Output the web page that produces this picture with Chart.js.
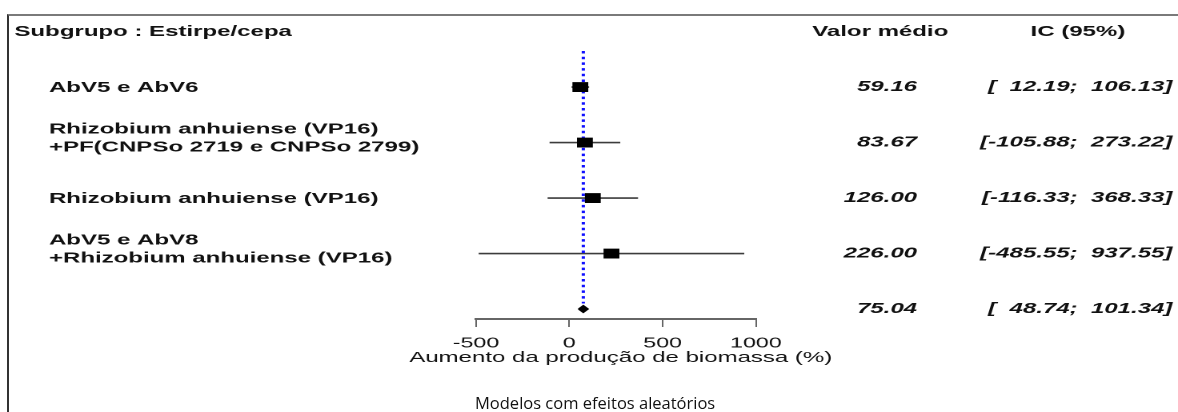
<!DOCTYPE html>
<html>
<head>
<meta charset="utf-8">
<script src="https://cdn.jsdelivr.net/npm/chart.js@4.4.1/dist/chart.umd.min.js"></script>
<style>
html, body { margin: 0; padding: 0; background: #fff; }
#wrap { position: relative; width: 1178px; height: 412px; overflow: hidden; background: #fff; }
#frame { position: absolute; left: 7px; top: 14px; right: -4px; bottom: -4px;
	border-top: 2px solid #7a7a7a; border-left: 2px solid #333; }
/* the original figure was stretched sideways, so the plot is drawn narrow and widened */
#plot { position: absolute; left: 0; top: 0; width: 736px; height: 412px;
	transform: scaleX(1.6005); transform-origin: 0 0; }
#caption { position: absolute; left: 475px; top: 391px; font: 16.5px "Open Sans", "Noto Sans", sans-serif;
	color: #111; white-space: nowrap; }
</style>
</head>
<body>
<div id="wrap">
	<div id="frame"></div>
	<canvas id="plot" width="736" height="412"></canvas>
	<div id="caption">Modelos com efeitos aleatórios</div>
</div>
<script>
// Forest plot data
const headerLabel = 'Subgrupo : Estirpe/cepa'
const studyLabels = [
	['AbV5 e AbV6'],
	['Rhizobium anhuiense (VP16)', '+PF(CNPSo 2719 e CNPSo 2799)'],
	['Rhizobium anhuiense (VP16)'],
	['AbV5 e AbV8', '+Rhizobium anhuiense (VP16)'],
]
const means = [59.16, 83.67, 126.0, 226.0]
const ciLow = [12.19, -105.88, -116.33, -485.55]
const ciHigh = [106.13, 273.22, 368.33, 937.55]
const summaryMean = 75.04
const summaryLow = 48.74
const summaryHigh = 101.34
const xTicks = [-500, 0, 500, 1000]
const xTitle = 'Aumento da produção de biomassa (%)'

const summaryRow = studyLabels.length
const yTop = -0.65
const yBottom = 4.18
const BOLD = 'bold 15px "Liberation Sans", Arial, sans-serif'
const ITAL = 'italic bold 15px "Liberation Sans", Arial, sans-serif'
const PLAIN = '15px "Liberation Sans", Arial, sans-serif'

function pad(s, n) {
	while (s.length < n) s = ' ' + s
	return s
}
function ciText(lo, hi) {
	return '[' + pad(lo.toFixed(2), 7) + '; ' + pad(hi.toFixed(2), 7) + ']'
}

const ciSets = ciLow.map((lo, i) => ({
	data: [{ x: lo, y: i }, { x: ciHigh[i], y: i }],
	borderColor: '#3c3c3c',
	borderWidth: 1.6,
	pointRadius: 0,
	order: 3,
}))

const boxSet = {
	data: means.map((m, i) => ({ x: m, y: i })),
	showLine: false,
	pointStyle: 'rect',
	pointRadius: 7,
	backgroundColor: '#000',
	borderColor: '#000',
	borderWidth: 0,
	order: 0,
}

const diamondSet = {
	data: [
		{ x: summaryLow, y: summaryRow },
		{ x: summaryMean, y: summaryRow - 0.065 },
		{ x: summaryHigh, y: summaryRow },
		{ x: summaryMean, y: summaryRow + 0.065 },
		{ x: summaryLow, y: summaryRow },
	],
	fill: 'shape',
	backgroundColor: '#000',
	borderColor: '#000',
	borderWidth: 1,
	pointRadius: 0,
	order: 0,
}

const meanLineSet = {
	data: [{ x: summaryMean, y: yTop }, { x: summaryMean, y: summaryRow - 0.1 }],
	borderColor: '#1010ff',
	borderWidth: 2,
	borderDash: [2.5, 3.2],
	pointRadius: 0,
	order: 1,
}

// text columns drawn next to the plot, and the axis title (wider than the axis)
const textPlugin = {
	id: 'forestText',
	afterDraw(chart) {
		const ctx = chart.ctx
		const y = chart.scales.y
		const x = chart.scales.x
		ctx.save()
		ctx.fillStyle = '#111'
		ctx.textBaseline = 'middle'
		ctx.font = BOLD
		ctx.textAlign = 'left'
		ctx.fillText(headerLabel, 9, 32)
		ctx.textAlign = 'center'
		ctx.fillText('Valor médio', 550, 32)
		ctx.fillText('IC (95%)', 673.5, 32)

		studyLabels.forEach((lines, i) => {
			const py = y.getPixelForValue(i)
			const shift = lines.length > 1 ? 5 : 1
			ctx.font = BOLD
			ctx.textAlign = 'left'
			lines.forEach((t, k) => {
				ctx.fillText(t, 30.6, py + shift - (lines.length - 1 - k) * 18)
			})
			ctx.font = ITAL
			ctx.textAlign = 'right'
			ctx.fillText(means[i].toFixed(2), 573, py)
			ctx.fillText(ciText(ciLow[i], ciHigh[i]), 732.5, py)
		})
		const sy = y.getPixelForValue(summaryRow)
		ctx.font = ITAL
		ctx.textAlign = 'right'
		ctx.fillText(summaryMean.toFixed(2), 573, sy)
		ctx.fillText(ciText(summaryLow, summaryHigh), 732.5, sy)

		ctx.font = PLAIN
		ctx.textAlign = 'center'
		ctx.fillText(xTitle, (x.left + x.right) / 2 + 3, x.top + 39)
		ctx.restore()
	},
}

const config = {
	type: 'line',
	data: {
		datasets: [boxSet, diamondSet, meanLineSet, ...ciSets],
	},
	options: {
		responsive: false,
		animation: false,
		devicePixelRatio: 2,
		layout: {
			padding: { left: 297.4, right: 263.7, top: 51, bottom: 45 },
		},
		plugins: {
			legend: { display: false },
			tooltip: { enabled: false },
		},
		scales: {
			x: {
				type: 'linear',
				position: 'bottom',
				min: xTicks[0],
				max: xTicks[xTicks.length - 1],
				afterBuildTicks: (s) => {
					s.ticks = xTicks.map((v) => ({ value: v }))
				},
				afterFit: (s) => {
					s.height = 48
				},
				ticks: {
					color: '#111',
					padding: 8,
					callback: (v) => String(v),
					font: { family: '"Liberation Sans", Arial, sans-serif', size: 14.5 },
				},
				grid: {
					drawOnChartArea: false,
					drawTicks: true,
					tickLength: 8,
					color: '#666',
					lineWidth: 1,
				},
				border: { display: true, color: '#666', width: 2 },
				title: { display: false },
			},
			y: {
				type: 'linear',
				display: false,
				reverse: true,
				min: yTop,
				max: yBottom,
			},
		},
	},
	plugins: [textPlugin],
}

new Chart(document.getElementById('plot'), config)
</script>
</body>
</html>
